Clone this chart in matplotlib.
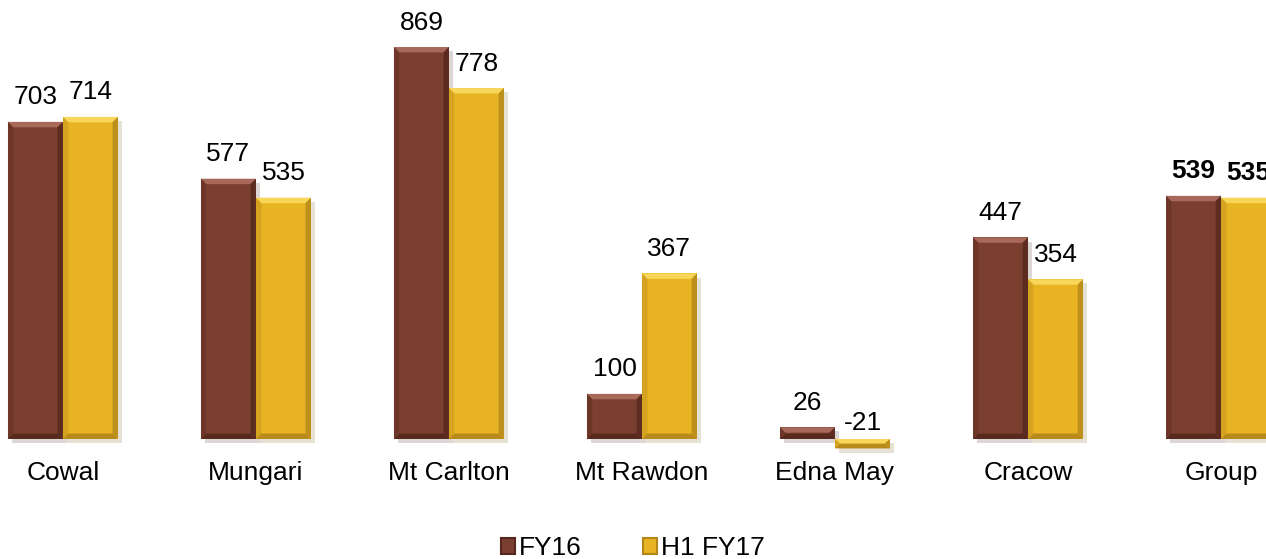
import matplotlib.pyplot as plt
import matplotlib.patheffects as pe
from matplotlib.patches import Polygon, Rectangle
import numpy as np

plt.rcParams['font.family'] = ['Liberation Sans', 'DejaVu Sans']

mines = ["Cowal", "Mungari", "Mt Carlton", "Mt Rawdon", "Edna May", "Cracow", "Group"]
fy16 = [703, 577, 869, 100, 26, 447, 539]
h1_fy17 = [714, 535, 778, 367, -21, 354, 535]
series_names = ["FY16", "H1 FY17"]

# face, light bevel, dark bevel
brown = ("#7B3F30", "#A8685A", "#55281D")
gold = ("#E8B423", "#F7D65A", "#B3861A")

fig = plt.figure(figsize=(12.66, 5.59), dpi=100)
ax = fig.add_axes([0, 1 - 460 / 559, 1, 460 / 559])

x = np.arange(len(mines))
w = 0.285


def bevel(ax, bar, cols):
    # little bevelled look like the office chart
    x0, y0 = bar.get_x(), bar.get_y()
    x1, y1 = x0 + bar.get_width(), y0 + bar.get_height()
    lo, hi = min(y0, y1), max(y0, y1)
    bx = 0.028
    by = min(12.0, (hi - lo) / 2)
    ax.add_patch(Polygon([[x0, hi], [x1, hi], [x1 - bx, hi - by], [x0 + bx, hi - by]],
                         closed=True, fc=cols[1], ec="none", zorder=3))
    ax.add_patch(Polygon([[x1, hi], [x1, lo], [x1 - bx, lo + by], [x1 - bx, hi - by]],
                         closed=True, fc=cols[2], ec="none", zorder=3, alpha=0.8))
    ax.add_patch(Polygon([[x0, lo], [x1, lo], [x1 - bx, lo + by], [x0 + bx, lo + by]],
                         closed=True, fc=cols[2], ec="none", zorder=3, alpha=0.9))
    ax.add_patch(Polygon([[x0, lo], [x0, hi], [x0 + bx, hi - by], [x0 + bx, lo + by]],
                         closed=True, fc=cols[2], ec="none", zorder=3, alpha=0.35))


shadow = [pe.SimplePatchShadow(offset=(3, -3), alpha=0.18, rho=0.5), pe.Normal()]

for vals, off, cols in [(fy16, -w / 2, brown), (h1_fy17, w / 2, gold)]:
    bars = ax.bar(x + off, vals, width=w, color=cols[0], zorder=2, path_effects=shadow)
    for i, (b, v) in enumerate(zip(bars, vals)):
        bevel(ax, b, cols)
        bold = mines[i] == "Group"
        ax.annotate(str(v), (b.get_x() + b.get_width() / 2, max(v, 0)),
                    xytext=(0, 9 if v >= 0 else 3), textcoords="offset points",
                    ha="center", va="bottom", fontsize=19,
                    fontweight="bold" if bold else "normal", annotation_clip=False)

ax.set_xlim(-0.326, 6.233)
ax.set_ylim(-46.6, 973.2)
ax.set_xticks(x)
ax.set_xticklabels(mines, fontsize=19)
ax.tick_params(axis="x", length=0, pad=1)
ax.set_yticks([])
for s in ax.spines.values():
    s.set_visible(False)

handles = [Rectangle((0, 0), 1, 1, fc=brown[0], ec=brown[2], lw=1.5),
           Rectangle((0, 0), 1, 1, fc=gold[0], ec=gold[2], lw=1.5)]
fig.legend(handles, series_names, loc="center", bbox_to_anchor=(0.5, 1 - 548 / 559),
           ncol=2, frameon=False, fontsize=19, handlelength=0.55, handleheight=0.55,
           handletextpad=0.15, columnspacing=2.3)

fig.savefig("out.png", dpi=100)
